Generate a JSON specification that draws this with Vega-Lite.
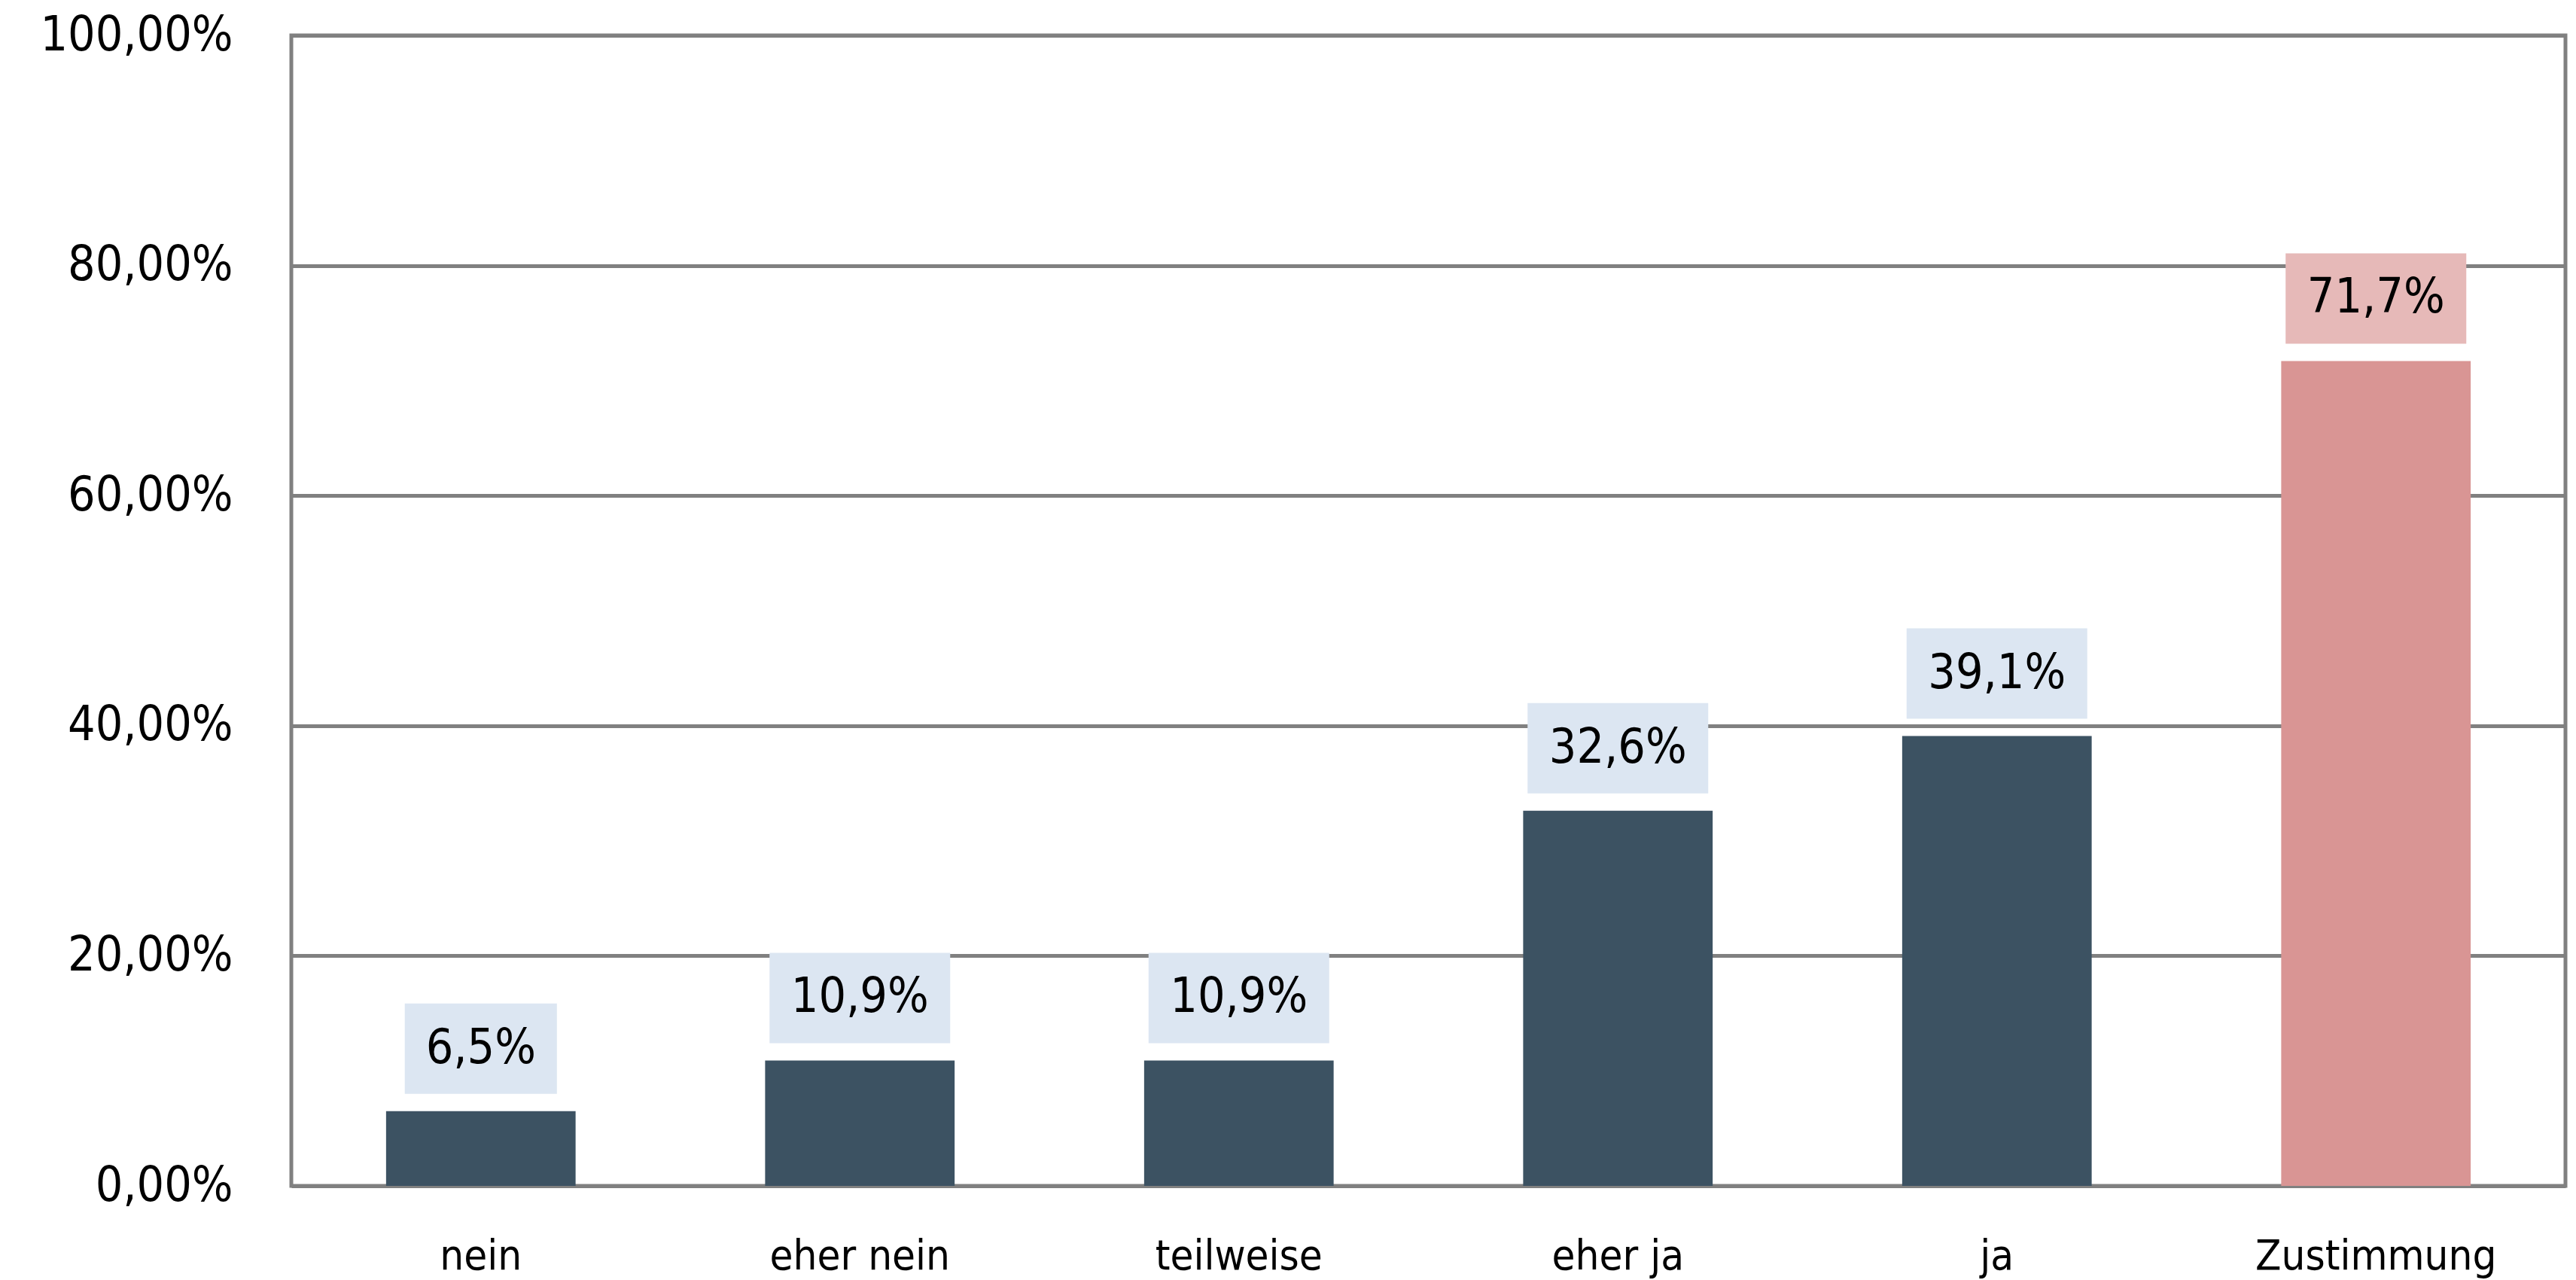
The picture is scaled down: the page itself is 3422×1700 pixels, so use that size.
{
  "$schema": "https://vega.github.io/schema/vega-lite/v6.json",
  "width": 3021,
  "height": 1528,
  "autosize": {"type": "none"},
  "padding": {"left": 387, "top": 47, "right": 14, "bottom": 125},
  "background": "white",
  "config": {
    "locale": {"number": {"decimal": ",", "thousands": ".", "grouping": [3], "currency": ["", " €"]}},
    "view": {"stroke": "#808080", "strokeWidth": 5},
    "font": "DejaVu Sans Condensed, Liberation Sans"
  },
  "data": {
    "values": [
      {"kategorie": "nein", "wert": 0.065},
      {"kategorie": "eher nein", "wert": 0.109},
      {"kategorie": "teilweise", "wert": 0.109},
      {"kategorie": "eher ja", "wert": 0.326},
      {"kategorie": "ja", "wert": 0.391},
      {"kategorie": "Zustimmung", "wert": 0.717}
    ]
  },
  "encoding": {
    "x": {
      "field": "kategorie",
      "type": "nominal",
      "sort": null,
      "scale": {"paddingInner": 0.5, "paddingOuter": 0.25},
      "axis": {
        "title": null,
        "labelAngle": 0,
        "labelFontSize": 56,
        "labelColor": "#000000",
        "labelPadding": 66,
        "labelLimit": 0,
        "ticks": false,
        "domain": false,
        "labelFont": "DejaVu Sans Condensed, Liberation Sans"
      }
    },
    "y": {
      "field": "wert",
      "type": "quantitative",
      "scale": {"domain": [0, 1], "nice": false},
      "axis": {
        "title": null,
        "values": [0, 0.2, 0.4, 0.6, 0.8, 1],
        "format": ".2%",
        "labelFontSize": 64,
        "labelColor": "#000000",
        "labelPadding": 78,
        "labelLimit": 0,
        "ticks": false,
        "domain": false,
        "grid": true,
        "gridColor": "#808080",
        "gridWidth": 5,
        "gridOpacity": 1,
        "labelFont": "DejaVu Sans Condensed, Liberation Sans"
      }
    }
  },
  "layer": [
    {
      "mark": {"type": "bar"},
      "encoding": {
        "color": {
          "condition": {"test": "datum.kategorie === 'Zustimmung'", "value": "#d99594"},
          "value": "#3c5262"
        }
      }
    },
    {
      "mark": {"type": "point", "filled": true, "opacity": 1, "size": 57600, "yOffset": -83, "strokeWidth": 0},
      "encoding": {
        "shape": {
          "condition": {"test": "datum.wert < 0.1", "value": "M-0.842,-0.5H0.842V0.5H-0.842Z"},
          "value": "M-1,-0.5H1V0.5H-1Z"
        },
        "color": {
          "condition": {"test": "datum.kategorie === 'Zustimmung'", "value": "#e6b9b8"},
          "value": "#dce6f2"
        }
      }
    },
    {
      "mark": {"type": "text", "fontSize": 64, "yOffset": -83, "baseline": "middle", "align": "center", "color": "#000000", "font": "DejaVu Sans Condensed, Liberation Sans"},
      "encoding": {
        "text": {"field": "wert", "type": "quantitative", "format": ".1%"}
      }
    }
  ]
}
